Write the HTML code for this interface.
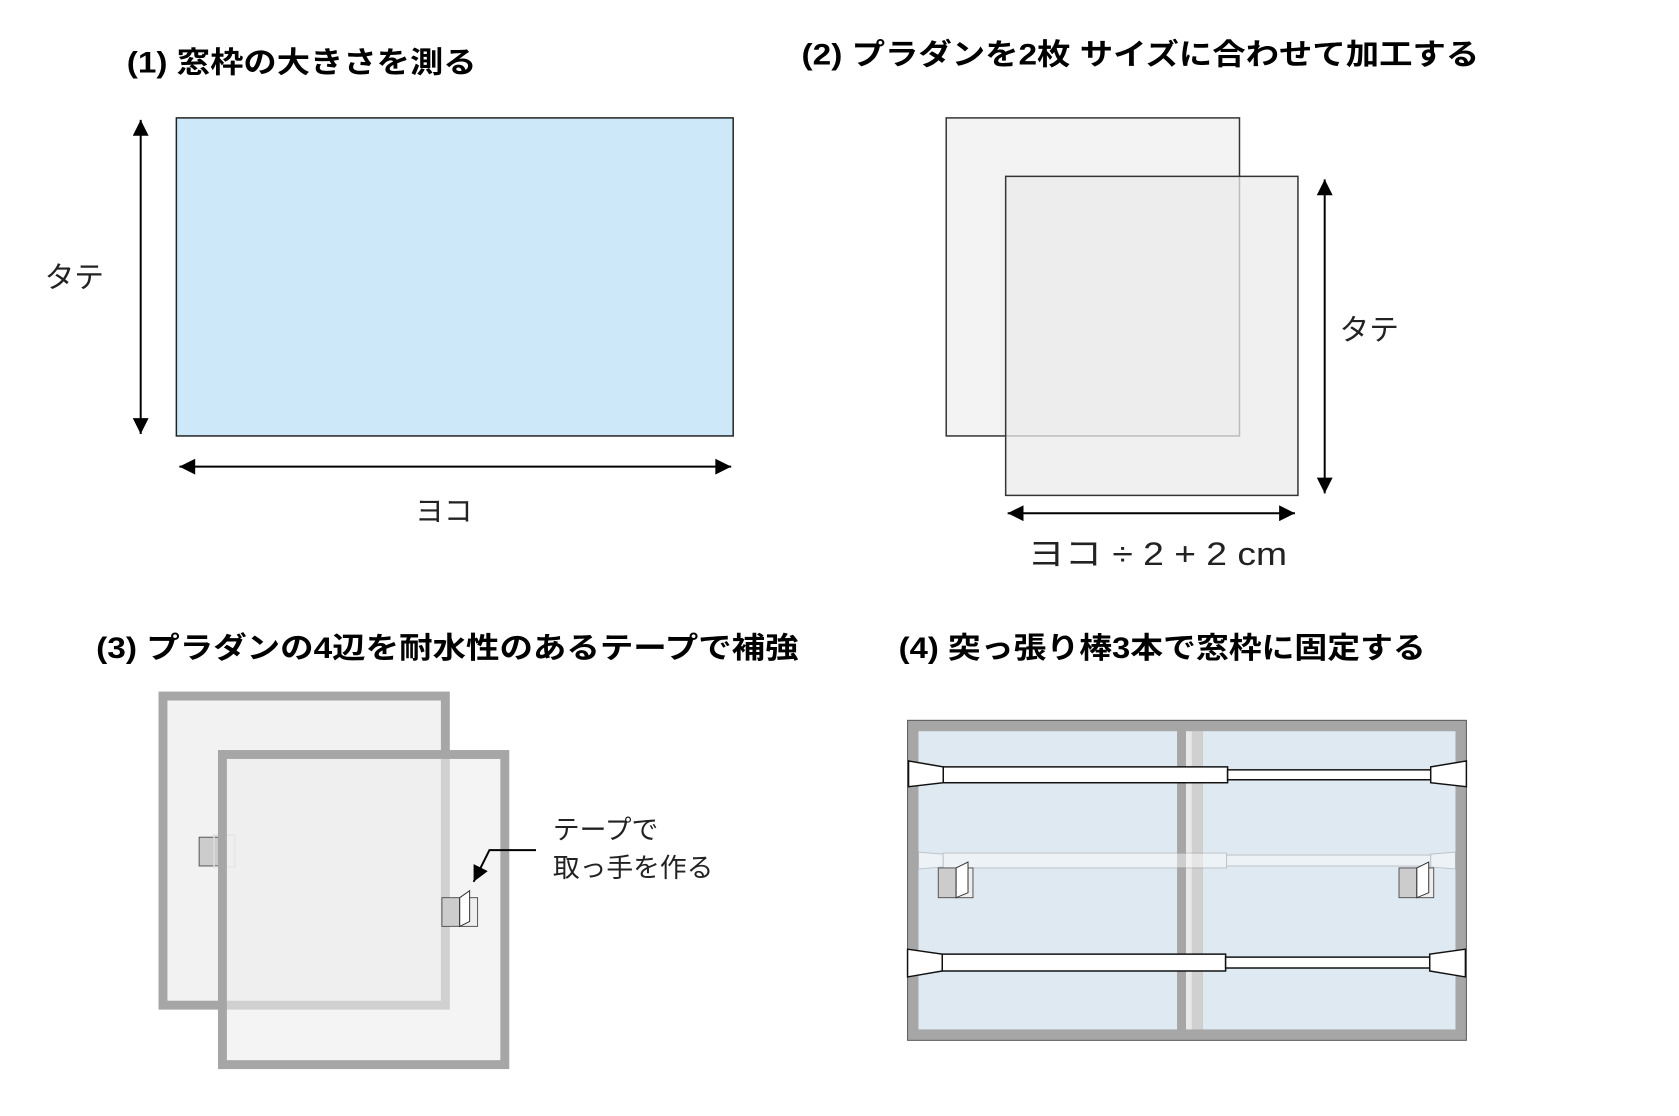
<!DOCTYPE html>
<html><head><meta charset="utf-8"><style>
html,body{margin:0;padding:0;background:#fff;overflow:hidden;}
svg{display:block;}
text{font-family:"Liberation Sans","Noto Sans CJK JP",sans-serif;}
</style></head><body>
<svg width="1679" height="1116" viewBox="0 0 1679 1116" xmlns="http://www.w3.org/2000/svg">
<defs>
<marker id="ah2" viewBox="0 0 10 10" refX="10" refY="5" markerWidth="22" markerHeight="16" markerUnits="userSpaceOnUse" orient="auto-start-reverse">
<path d="M0,0 L10,5 L0,10 z" fill="#000"/></marker>
</defs>
<g transform="scale(0.9908)">
<!-- Titles -->
<text x="128" y="73" font-size="30" font-weight="bold" textLength="353" lengthAdjust="spacingAndGlyphs">(1) 窓枠の大きさを測る</text>
<text x="809" y="65" font-size="30" font-weight="bold" textLength="684" lengthAdjust="spacingAndGlyphs">(2) プラダンを2枚 サイズに合わせて加工する</text>
<text x="97" y="664" font-size="30" font-weight="bold" textLength="709" lengthAdjust="spacingAndGlyphs">(3) プラダンの4辺を耐水性のあるテープで補強</text>
<text x="907" y="664" font-size="30" font-weight="bold" textLength="532" lengthAdjust="spacingAndGlyphs">(4) 突っ張り棒3本で窓枠に固定する</text>

<!-- Panel 1 -->
<rect x="178" y="119" width="562" height="321" fill="#cde8f8" stroke="#222" stroke-width="1.5"/>
<line x1="142" y1="121" x2="142" y2="438" stroke="#000" stroke-width="2" marker-start="url(#ah2)" marker-end="url(#ah2)"/>
<line x1="181" y1="471" x2="738" y2="471" stroke="#000" stroke-width="2" marker-start="url(#ah2)" marker-end="url(#ah2)"/>
<text x="45" y="290" font-size="30" fill="#222">タテ</text>
<text x="419" y="526" font-size="29" fill="#222">ヨコ</text>

<!-- Panel 2 -->
<rect x="955" y="119" width="296" height="321" fill="#f3f3f3" stroke="#333" stroke-width="1.5"/>
<rect x="1015" y="178" width="295" height="322" fill="rgba(235,235,235,0.75)" stroke="#333" stroke-width="1.5"/>
<line x1="1337" y1="181" x2="1337" y2="498" stroke="#000" stroke-width="2" marker-start="url(#ah2)" marker-end="url(#ah2)"/>
<line x1="1017" y1="518" x2="1307" y2="518" stroke="#000" stroke-width="2" marker-start="url(#ah2)" marker-end="url(#ah2)"/>
<text x="1352" y="343" font-size="30" fill="#222">タテ</text>
<text x="1037" y="570" font-size="33" fill="#222" textLength="262" lengthAdjust="spacingAndGlyphs">ヨコ ÷ 2 + 2 cm</text>

<!-- Panel 3 -->
<rect x="164.5" y="702.5" width="285" height="312" fill="#f2f2f2" stroke="#a6a6a6" stroke-width="9"/>
<rect x="201" y="845" width="20" height="29" fill="#cccccc" stroke="#555" stroke-width="1"/>
<rect x="216" y="843" width="21" height="32" fill="none" stroke="#ddd" stroke-width="1.5"/>
<rect x="224.5" y="761.5" width="285" height="313" fill="rgba(236,236,236,0.6)" stroke="#a6a6a6" stroke-width="9"/>
<rect x="446" y="906" width="18" height="29" fill="#cccccc" stroke="#555" stroke-width="1"/>
<rect x="464" y="906" width="18" height="29" fill="#eee" stroke="#555" stroke-width="1"/>
<path d="M464,935 L464,906 L474,899 L474,930 z" fill="#fff" stroke="#333" stroke-width="1"/>
<polyline points="541,858 494,858 478,890" fill="none" stroke="#000" stroke-width="2" marker-end="url(#ah2)"/>
<text x="558" y="847" font-size="27" fill="#222">テープで</text>
<text x="558" y="885" font-size="27" fill="#222">取っ手を作る</text>

<!-- Panel 4 -->
<rect x="916" y="727" width="564" height="323" fill="#a6a6a6" stroke="#555" stroke-width="1"/>
<rect x="927" y="738" width="261" height="301" fill="#dfe9f1"/>
<rect x="1214" y="738" width="255" height="301" fill="#dfe9f1"/>
<rect x="1197" y="738" width="6" height="301" fill="#e8e8e8"/>
<rect x="1203" y="738" width="11" height="301" fill="#d0d0d0"/>
<g opacity="0.45">
<path d="M927,860 L952,862 L952,875 L927,877 z" fill="#fff" stroke="#999"/>
<rect x="952" y="861" width="286" height="15" fill="#fff" stroke="#999"/>
<rect x="1238" y="863" width="206" height="11" fill="#fff" stroke="#999"/>
<path d="M1469,860 L1444,862 L1444,875 L1469,877 z" fill="#fff" stroke="#999"/>
</g>
<rect x="947" y="876" width="18" height="30" fill="#cccccc" stroke="#555" stroke-width="1"/>
<rect x="965" y="876" width="17" height="30" fill="#eee" stroke="#555" stroke-width="1"/>
<path d="M965,906 L965,876 L977,870 L977,901 z" fill="#fff" stroke="#333" stroke-width="1"/>
<rect x="1412" y="876" width="18" height="30" fill="#cccccc" stroke="#555" stroke-width="1"/>
<rect x="1430" y="876" width="17" height="30" fill="#eee" stroke="#555" stroke-width="1"/>
<path d="M1430,906 L1430,876 L1442,870 L1442,901 z" fill="#fff" stroke="#333" stroke-width="1"/>
<!-- rod 1 -->
<rect x="952" y="774" width="287" height="16" fill="#fff" stroke="#111" stroke-width="1.5"/>
<rect x="1239" y="777" width="205" height="10" fill="#fff" stroke="#111" stroke-width="1.5"/>
<path d="M917,768 L952,774 L952,790 L917,794 z" fill="#fff" stroke="#111" stroke-width="1.5"/>
<path d="M1480,768 L1444,774 L1444,790 L1480,794 z" fill="#fff" stroke="#111" stroke-width="1.5"/>
<!-- rod 3 -->
<rect x="951" y="963" width="286" height="17" fill="#fff" stroke="#111" stroke-width="1.5"/>
<rect x="1237" y="966" width="206" height="11" fill="#fff" stroke="#111" stroke-width="1.5"/>
<path d="M916,958 L951,963 L951,980 L916,986 z" fill="#fff" stroke="#111" stroke-width="1.5"/>
<path d="M1479,958 L1443,963 L1443,980 L1479,986 z" fill="#fff" stroke="#111" stroke-width="1.5"/>
</g>
</svg>
</body></html>
